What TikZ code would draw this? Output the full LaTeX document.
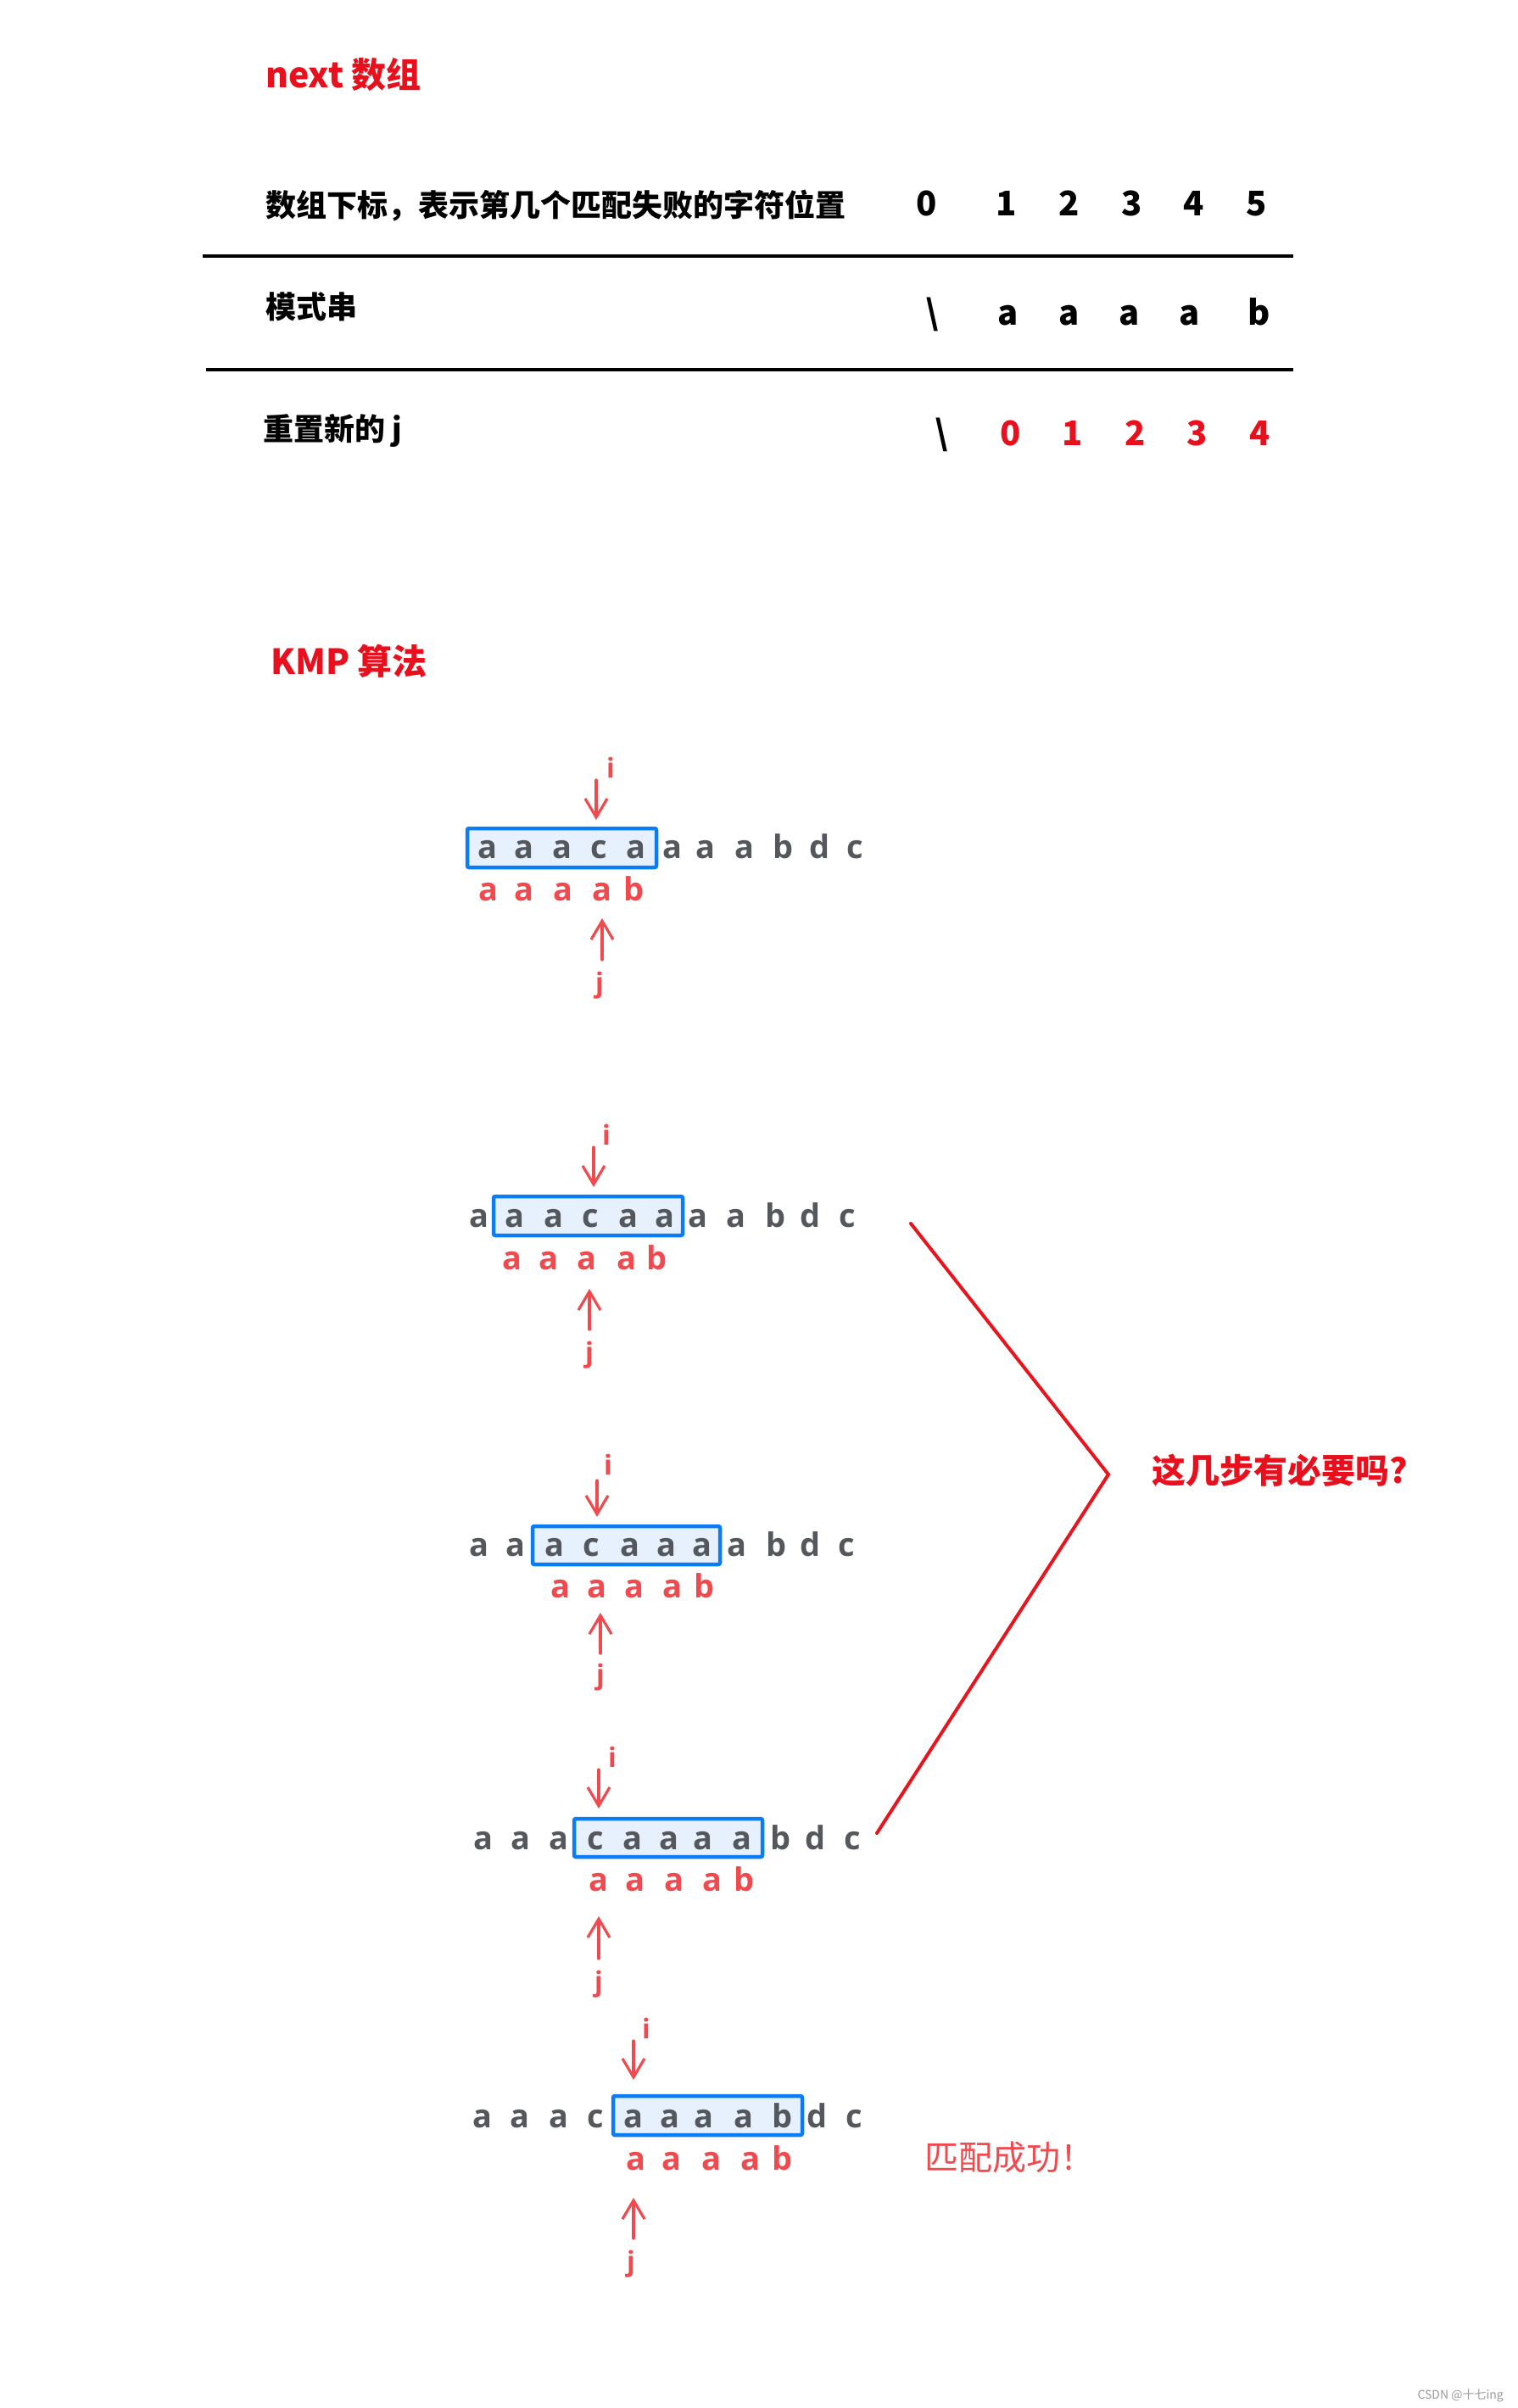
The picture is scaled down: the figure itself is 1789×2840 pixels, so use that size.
\documentclass[tikz,border=0pt]{standalone}
\usepackage{fontspec}
\usetikzlibrary{arrows.meta}
\newfontfamily\cjk{Noto Sans CJK SC}
\newfontfamily\hand{Open Sans}
\definecolor{titlered}{HTML}{E8101C}
\definecolor{hred}{HTML}{F04A4F}
\definecolor{hgray}{HTML}{54575C}
\definecolor{boxblue}{HTML}{0A7CF5}
\definecolor{boxfill}{HTML}{E6F1FD}
\definecolor{bred}{HTML}{E8141E}
\definecolor{wmgray}{HTML}{9A9A9A}
\tikzset{
  title/.style={font={\cjk\bfseries\fontsize{41}{48}\selectfont}, text=titlered, anchor=base west, inner sep=0pt},
  head/.style={font={\cjk\bfseries\fontsize{36}{44}\selectfont}, anchor=base west, inner sep=0pt},
  num/.style={font={\cjk\bfseries\fontsize{40}{48}\selectfont}, anchor=base, inner sep=0pt},
  rnum/.style={num, text=titlered},
  rule/.style={line width=4.5pt},
  hb/.style={font={\hand\bfseries\fontsize{38}{44}\selectfont}, text=hgray, anchor=base, inner sep=0pt},
  hr/.style={hb, text=hred},
  win/.style={draw=boxblue, fill=boxfill, line width=4.5pt, rounded corners=2pt, inner sep=0pt},
  ptr/.style={draw=hred, line width=3.2pt, line cap=round, -{Straight Barb[length=22pt,width=26pt]}},
  lbl/.style={font={\hand\bfseries\fontsize{32}{38}\selectfont}, text=hred, anchor=center, inner sep=0pt},
  bracket/.style={draw=bred, line width=4pt, line cap=round},
  ask/.style={font={\cjk\bfseries\fontsize{40}{48}\selectfont}, text=titlered, anchor=base west, inner sep=0pt},
}
\begin{document}
\begin{tikzpicture}[x=1pt,y=-1pt]
\path[use as bounding box] (0,0) rectangle (1789,2840);

% ---------- next array table ----------
\node[title] (t1) at (313,103) {next 数组};
\node[head] (h1) at (313,255) {数组下标，表示第几个匹配失败的字符位置};
\foreach \x/\c [count=\k] in {1093/0,1187/1,1261/2,1335/3,1408/4,1482/5}
  \node[num] (n\k) at (\x,254) {\c};
\draw[rule] (239,302) -- (1525,302);
\node[head] (h2) at (313,375) {模式串};
\foreach \x/\c [count=\k] in {1099/\textbackslash,1189/a,1261/a,1332/a,1403/a,1485/b}
  \node[num] (p\k) at (\x,383) {\c};
\draw[rule] (243,436) -- (1525,436);
\node[head] (h3) at (310,519) {重置新的 j};
\node[num] (r0) at (1110,525) {\textbackslash};
\foreach \x/\c [count=\k] in {1192/0,1265/1,1339/2,1412/3,1486/4}
  \node[rnum] (r\k) at (\x,525) {\c};

% ---------- KMP ----------
\node[title] (t2) at (319,795) {KMP 算法};

% block 1
\node[win, minimum width=223pt, minimum height=46pt] (w1) at (662.5,1000) {};
\foreach \x/\c [count=\k] in {575/a,618/a,663/a,706/c,750/a,793/a,832/a,878/a,924/b,967/d,1008/c}
  \node[hb] (sa\k) at (\x,1012) {\c};
\foreach \x/\c [count=\k] in {576/a,618/a,664/a,710/a,748/b}
  \node[hr] (pa\k) at (\x,1062) {\c};
\node[lbl] (ia) at (720,905) {i};
\coordinate (ia1) at (703,920); \coordinate (ia2) at (703,967);
\draw[ptr] (ia1) -- (ia2);
\node[lbl] (ja) at (707,1162) {j};
\coordinate (ja1) at (710,1132); \coordinate (ja2) at (710,1083);
\draw[ptr] (ja1) -- (ja2);

% block 2
\node[win, minimum width=223pt, minimum height=46pt] (w2) at (693.5,1434) {};
\foreach \x/\c [count=\k] in {565/a,607/a,653/a,696/c,741/a,784/a,823/a,868/a,915/b,956/d,999/c}
  \node[hb] (sb\k) at (\x,1447) {\c};
\foreach \x/\c [count=\k] in {604/a,647/a,692/a,739/a,775/b}
  \node[hr] (pb\k) at (\x,1497) {\c};
\node[lbl] (ib) at (715,1338) {i};
\coordinate (ib1) at (700,1353); \coordinate (ib2) at (700,1400);
\draw[ptr] (ib1) -- (ib2);
\node[lbl] (jb) at (695,1598) {j};
\coordinate (jb1) at (695,1568); \coordinate (jb2) at (695,1520);
\draw[ptr] (jb1) -- (jb2);

% block 3
\node[win, minimum width=221pt, minimum height=45pt] (w3) at (738.5,1822.5) {};
\foreach \x/\c [count=\k] in {565/a,608/a,654/a,697/c,743/a,786/a,828/a,869/a,916/b,956/d,998/c}
  \node[hb] (sc\k) at (\x,1835) {\c};
\foreach \x/\c [count=\k] in {661/a,704/a,748/a,793/a,831/b}
  \node[hr] (pc\k) at (\x,1884) {\c};
\node[lbl] (ic) at (717,1727) {i};
\coordinate (ic1) at (704,1746); \coordinate (ic2) at (704,1789);
\draw[ptr] (ic1) -- (ic2);
\node[lbl] (jc) at (708,1978) {j};
\coordinate (jc1) at (708,1950); \coordinate (jc2) at (708,1902);
\draw[ptr] (jc1) -- (jc2);

% block 4
\node[win, minimum width=222pt, minimum height=45pt] (w4) at (788,2167.5) {};
\foreach \x/\c [count=\k] in {570/a,614/a,659/a,702/c,746/a,789/a,829/a,875/a,921/b,962/d,1005/c}
  \node[hb] (sd\k) at (\x,2181) {\c};
\foreach \x/\c [count=\k] in {706/a,749/a,795/a,840/a,878/b}
  \node[hr] (pd\k) at (\x,2230) {\c};
\node[lbl] (id) at (722,2072) {i};
\coordinate (id1) at (706,2087); \coordinate (id2) at (706,2133);
\draw[ptr] (id1) -- (id2);
\node[lbl] (jd) at (706,2340) {j};
\coordinate (jd1) at (706,2310); \coordinate (jd2) at (706,2260);
\draw[ptr] (jd1) -- (jd2);

% block 5
\node[win, minimum width=223pt, minimum height=46pt] (w5) at (834.5,2495) {};
\foreach \x/\c [count=\k] in {569/a,613/a,659/a,702/c,747/a,790/a,830/a,877/a,923/b,964/d,1007/c}
  \node[hb] (se\k) at (\x,2509) {\c};
\foreach \x/\c [count=\k] in {750/a,792/a,839/a,885/a,923/b}
  \node[hr] (pe\k) at (\x,2559) {\c};
\node[lbl] (ie) at (762,2392) {i};
\coordinate (ie1) at (747,2407); \coordinate (ie2) at (747,2453);
\draw[ptr] (ie1) -- (ie2);
\node[lbl] (je) at (744,2670) {j};
\coordinate (je1) at (747,2640); \coordinate (je2) at (747,2592);
\draw[ptr] (je1) -- (je2);
\node[font={\cjk\fontsize{40}{48}\selectfont}, text=hred, anchor=center, inner sep=0pt] (ok) at (1190,2544) {匹配成功！};

% bracket and question
\coordinate (bt) at (1074,1443);
\coordinate (bm) at (1307,1739);
\coordinate (bb) at (1034,2162);
\draw[bracket] (bt) -- (bm) -- (bb);
\node[ask] (q) at (1358,1749) {这几步有必要吗?};

% watermark
\node[font={\cjk\fontsize{14}{16}\selectfont}, text=wmgray, anchor=base east, inner sep=0pt] (wm) at (1773,2829) {CSDN @十七ing};
\end{tikzpicture}
\end{document}
